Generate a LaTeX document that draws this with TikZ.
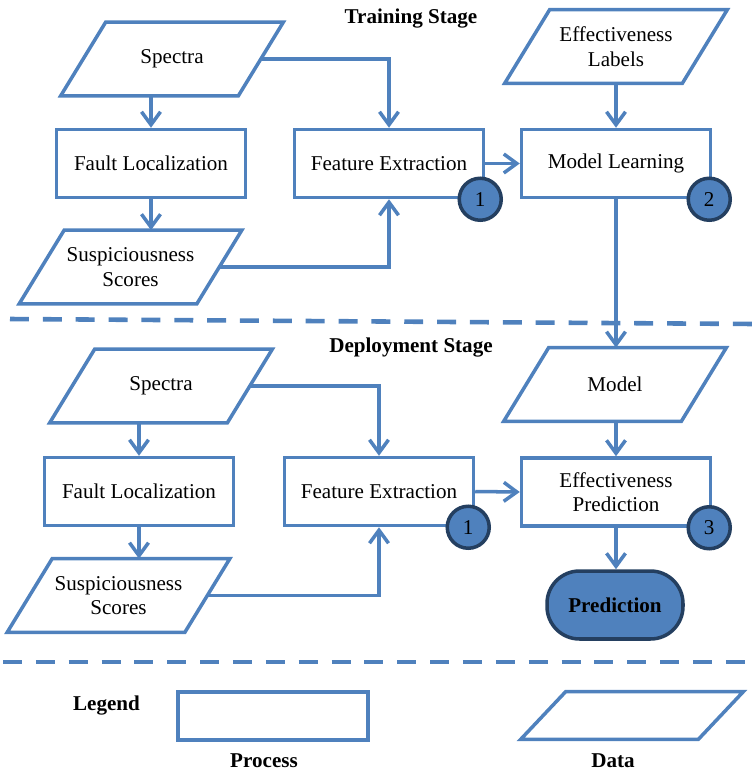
\documentclass[tikz,border=0pt]{standalone}
\usepackage{fontspec}
\setmainfont{Liberation Serif}
\usepackage{tikz}
\usetikzlibrary{arrows.meta,calc}
\usepackage{xcolor}
\definecolor{flowblue}{HTML}{4F81BD}
\definecolor{darknavy}{HTML}{243F60}
\newcommand{\diagfont}{\fontsize{12}{14}\selectfont}
\tikzset{
  procbox/.style={draw=flowblue, line width=2pt, fill=white, align=center, font=\diagfont, minimum width=3.78cm, minimum height=1.36cm, inner sep=1mm},
  databox/.style={align=center, font=\diagfont, minimum width=3.54cm, minimum height=1.46cm, inner sep=1mm},
  dataline/.style={draw=flowblue, line width=2pt, line join=miter},
  badge/.style={circle, draw=darknavy, fill=flowblue, line width=2pt, minimum size=0.84cm, inner sep=0pt, font=\diagfont},
  termbox/.style={draw=darknavy, fill=flowblue, line width=2pt, rounded corners=6.5mm, minimum width=2.72cm, minimum height=1.36cm, font=\diagfont\bfseries},
  stagetitle/.style={font=\diagfont\bfseries},
  arrow/.style={-{Straight Barb[length=2.6mm,width=3.8mm]}, line width=2pt, draw=flowblue},
  divider/.style={draw=flowblue, line width=2.6pt, dash pattern=on 10.8pt off 7.9pt}
}

\begin{document}
\begin{tikzpicture}[x=0.02cm, y=-0.02cm]
  \useasboundingbox (0,0) rectangle (753,771);
  % training stage
  \node[stagetitle] (ttrain) at (411,19) {Training Stage};
  \node[databox] (specT) at (172,59) {Spectra};
  \node[procbox] (flT) at (151,163.5) {Fault Localization};
  \node[databox] (ssT) at (130.5,267) {Suspiciousness\\Scores};
  \node[procbox] (feT) at (389,163.5) {Feature Extraction};
  \node[databox] (elT) at (616,46.5) {Effectiveness\\Labels};
  \node[procbox] (mlT) at (616,163.5) {Model Learning};
  \node[badge] (b1T) at ([xshift=-0.1cm]feT.south east) {1};
  \node[badge] (b2T) at ([xshift=-0.06cm]mlT.south east) {2};
  \draw[arrow] (specT.south -| flT.north) -- (flT.north);
  \draw[arrow] (flT.south) -- (flT.south |- ssT.north);
  \draw[arrow] (specT.east) -| (feT.north);
  \draw[arrow] (ssT.east) -| (feT.south);
  \draw[arrow] (feT.east) -- (mlT.west);
  \draw[arrow] (elT.south -| mlT.north) -- (mlT.north);

  \draw[divider] (10,319) -- (753,324);

  % deployment stage
  \node[stagetitle] (tdeploy) at (411,348) {Deployment Stage};
  \node[databox] (specD) at (161,386) {Spectra};
  \node[procbox] (flD) at (139,491.5) {Fault Localization};
  \node[databox] (ssD) at (118.5,595.5) {Suspiciousness\\Scores};
  \node[procbox] (feD) at (379,491.5) {Feature Extraction};
  \node[databox] (model) at (615,384.5) {Model};
  \node[procbox] (epD) at (616,492) {Effectiveness\\Prediction};
  \node[termbox] (pred) at (615,605) {Prediction};
  \node[badge] (b1D) at ([xshift=-0.14cm]feD.south east) {1};
  \node[badge] (b3D) at ([xshift=-0.06cm]epD.south east) {3};
  \draw[arrow] (mlT.south) -- (mlT.south |- model.north);
  \draw[arrow] (specD.south -| flD.north) -- (flD.north);
  \draw[arrow] (flD.south) -- (flD.south |- ssD.north);
  \draw[arrow] (specD.east) -| (feD.north);
  \draw[arrow] (ssD.east) -| (feD.south);
  \draw[arrow] (feD.east) -- (epD.west);
  \draw[arrow] (model.south -| epD.north) -- (epD.north);
  \draw[arrow] (epD.south) -- (epD.south |- pred.north);

  \draw[divider] (3,662) -- (753,662);

  % legend
  \node[stagetitle] (legend) at (106.5,706) {Legend};
  \node[procbox, minimum width=3.8cm, minimum height=0.96cm] (lproc) at (273,716) {};
  \node[stagetitle] (lproctext) at (264,761) {Process};
  \node[databox, minimum height=0.94cm] (ldata) at (632,715.5) {};
  \node[stagetitle] (ldatatext) at (613,761) {Data};

  % parallelogram outlines of the data nodes
  \foreach \d in {specT,ssT,elT,specD,ssD,model,ldata}
    \draw[dataline] ($(\d.south west)+(-0.45cm,0)$) -- ($(\d.north west)+(0.45cm,0)$)
      -- ($(\d.north east)+(0.45cm,0)$) -- ($(\d.south east)+(-0.45cm,0)$) -- cycle;
\end{tikzpicture}
\end{document}
